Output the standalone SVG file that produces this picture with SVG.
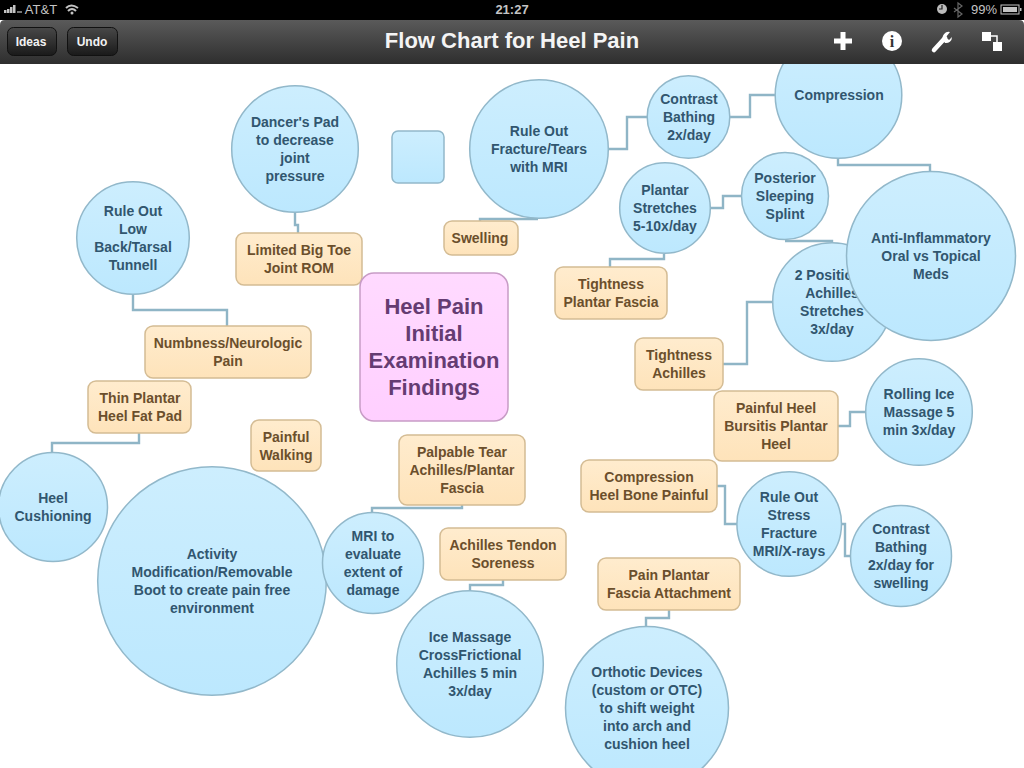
<svg xmlns="http://www.w3.org/2000/svg" width="1024" height="768" viewBox="0 0 1024 768">
<style>
text{font-family:"Liberation Sans",Arial,sans-serif;font-weight:bold;text-anchor:middle}
.c circle,.sq{fill:url(#blue);stroke:#92b8ca;stroke-width:1.5}
.c text{font-size:14px;fill:#31566f}
.r rect{fill:url(#tan);stroke:#d4bc94;stroke-width:1.5}
.r text{font-size:14px;fill:#6b4f2c}
#links path{fill:none;stroke:#8fb5c6;stroke-width:2.400}
.st{font-size:13px;font-weight:normal;fill:#c4c4c4}
.btn rect{fill:url(#btn);stroke:#111;stroke-width:1}
.btn text{font-size:12px;fill:#f2f2f2}
</style>
<defs>
<linearGradient id="blue" x1="0" y1="0" x2="0" y2="1"><stop offset="0" stop-color="#cdeefe"/><stop offset="1" stop-color="#bce8fe"/></linearGradient>
<linearGradient id="tan" x1="0" y1="0" x2="0" y2="1"><stop offset="0" stop-color="#ffecce"/><stop offset="1" stop-color="#fee3ba"/></linearGradient>
<linearGradient id="pink" x1="0" y1="0" x2="0" y2="1"><stop offset="0" stop-color="#ffdaff"/><stop offset="1" stop-color="#ffcfff"/></linearGradient>
<linearGradient id="bar" x1="0" y1="0" x2="0" y2="1"><stop offset="0" stop-color="#5a5a5a"/><stop offset="1" stop-color="#2e2e2e"/></linearGradient>
<linearGradient id="btn" x1="0" y1="0" x2="0" y2="1"><stop offset="0" stop-color="#484848"/><stop offset="1" stop-color="#1a1a1a"/></linearGradient>
</defs>
<rect width="1024" height="768" fill="#fff"/>

<g id="links">
<path d="M295 213V225H298V233"/>
<path d="M538 219H480V221"/>
<path d="M606 149H627V117H647"/>
<path d="M730 117H750V95H775"/>
<path d="M838 159V165H930V171"/>
<path d="M711 208H723V196H741"/>
<path d="M664 254V259H610V267"/>
<path d="M785 241H832V243"/>
<path d="M723 364H747V302H772"/>
<path d="M133 295V310H227V326"/>
<path d="M139 433V443H52V452"/>
<path d="M462 505V508H372V512"/>
<path d="M503 580V585H470V590"/>
<path d="M669 610V618H646V626"/>
<path d="M838 426H850V412H865"/>
<path d="M717 486H725V524H737"/>
<path d="M842 524H845V556H851"/>
</g>

<g id="dancers-pad" class="c"><circle cx="295" cy="149" r="63.300"/><text x="295" y="127">Dancer's Pad</text><text x="295" y="145">to decrease</text><text x="295" y="163">joint</text><text x="295" y="181">pressure</text></g>
<g id="blank-note"><rect class="sq" x="392" y="131" width="52" height="52" rx="6"/></g>
<g id="rule-out-fracture" class="c"><circle cx="539" cy="149" r="69.300"/><text x="539" y="136">Rule Out</text><text x="539" y="154">Fracture/Tears</text><text x="539" y="172">with MRI</text></g>
<g id="contrast-bathing" class="c"><circle cx="688.500" cy="117" r="41.300"/><text x="689" y="104">Contrast</text><text x="689" y="122">Bathing</text><text x="689" y="140">2x/day</text></g>
<g id="plantar-stretches" class="c"><circle cx="665" cy="208" r="45.300"/><text x="665" y="195">Plantar</text><text x="665" y="213">Stretches</text><text x="665" y="231">5-10x/day</text></g>
<g id="posterior-splint" class="c"><circle cx="785" cy="196" r="43.500"/><text x="785" y="183">Posterior</text><text x="785" y="201">Sleeping</text><text x="785" y="219">Splint</text></g>
<g id="achilles-stretches" class="c"><circle cx="832" cy="302" r="59.300"/><text x="832" y="280">2 Positions</text><text x="832" y="298">Achilles</text><text x="832" y="316">Stretches</text><text x="832" y="334">3x/day</text></g>
<g id="compression" class="c"><circle cx="838.500" cy="95" r="63.300"/><text x="839" y="100">Compression</text></g>
<g id="anti-inflammatory" class="c"><circle cx="931" cy="256" r="84.500"/><text x="931" y="243">Anti-Inflammatory</text><text x="931" y="261">Oral vs Topical</text><text x="931" y="279">Meds</text></g>
<g id="rule-out-back" class="c"><circle cx="133" cy="238" r="56.300"/><text x="133" y="216">Rule Out</text><text x="133" y="234">Low</text><text x="133" y="252">Back/Tarsal</text><text x="133" y="270">Tunnell</text></g>
<g id="rolling-ice" class="c"><circle cx="919" cy="412" r="53.300"/><text x="919" y="399">Rolling Ice</text><text x="919" y="417">Massage 5</text><text x="919" y="435">min 3x/day</text></g>
<g id="rule-out-stress" class="c"><circle cx="789.200" cy="524" r="52.300"/><text x="789" y="502">Rule Out</text><text x="789" y="520">Stress</text><text x="789" y="538">Fracture</text><text x="789" y="556">MRI/X-rays</text></g>
<g id="contrast-swelling" class="c"><circle cx="901" cy="556" r="50.500"/><text x="901" y="534">Contrast</text><text x="901" y="552">Bathing</text><text x="901" y="570">2x/day for</text><text x="901" y="588">swelling</text></g>
<g id="heel-cushioning" class="c"><circle cx="53" cy="507" r="54.500"/><text x="53" y="503">Heel</text><text x="53" y="521">Cushioning</text></g>
<g id="activity-modification" class="c"><circle cx="212" cy="581" r="114.300"/><text x="212" y="559">Activity</text><text x="212" y="577">Modification/Removable</text><text x="212" y="595">Boot to create pain free</text><text x="212" y="613">environment</text></g>
<g id="mri-evaluate" class="c"><circle cx="373" cy="563" r="50.500"/><text x="373" y="541">MRI to</text><text x="373" y="559">evaluate</text><text x="373" y="577">extent of</text><text x="373" y="595">damage</text></g>
<g id="ice-massage" class="c"><circle cx="470" cy="664" r="73.300"/><text x="470" y="642">Ice Massage</text><text x="470" y="660">CrossFrictional</text><text x="470" y="678">Achilles 5 min</text><text x="470" y="696">3x/day</text></g>
<g id="orthotic-devices" class="c"><circle cx="647" cy="708" r="81.500"/><text x="647" y="677">Orthotic Devices</text><text x="647" y="695">(custom or OTC)</text><text x="647" y="713">to shift weight</text><text x="647" y="731">into arch and</text><text x="647" y="749">cushion heel</text></g>

<g id="limited-toe" class="r"><rect x="236" y="233" width="126" height="52" rx="8"/><text x="299" y="255">Limited Big Toe</text><text x="299" y="273">Joint ROM</text></g>
<g id="swelling" class="r"><rect x="444" y="221" width="74" height="34" rx="8"/><text x="480" y="243">Swelling</text></g>
<g id="heel-pain"><rect x="360" y="273" width="148" height="148" rx="14" fill="url(#pink)" stroke="#c89cc6" stroke-width="1.500"/><g style="font-size:22px" fill="#653c72"><text x="434" y="314">Heel Pain</text><text x="434" y="341">Initial</text><text x="434" y="368">Examination</text><text x="434" y="395">Findings</text></g></g>
<g id="tightness-plantar" class="r"><rect x="555" y="267" width="112" height="52" rx="8"/><text x="611" y="289">Tightness</text><text x="611" y="307">Plantar Fascia</text></g>
<g id="tightness-achilles" class="r"><rect x="635" y="338" width="88" height="52" rx="8"/><text x="679" y="360">Tightness</text><text x="679" y="378">Achilles</text></g>
<g id="numbness" class="r"><rect x="145" y="326" width="166" height="52" rx="8"/><text x="228" y="348">Numbness/Neurologic</text><text x="228" y="366">Pain</text></g>
<g id="thin-fat-pad" class="r"><rect x="88" y="381" width="103" height="52" rx="8"/><text x="140" y="403">Thin Plantar</text><text x="140" y="421">Heel Fat Pad</text></g>
<g id="painful-walking" class="r"><rect x="251" y="420" width="70" height="51" rx="8"/><text x="286" y="442">Painful</text><text x="286" y="460">Walking</text></g>
<g id="palpable-tear" class="r"><rect x="399" y="435" width="126" height="70" rx="8"/><text x="462" y="457">Palpable Tear</text><text x="462" y="475">Achilles/Plantar</text><text x="462" y="493">Fascia</text></g>
<g id="achilles-soreness" class="r"><rect x="440" y="528" width="126" height="52" rx="8"/><text x="503" y="550">Achilles Tendon</text><text x="503" y="568">Soreness</text></g>
<g id="painful-bursitis" class="r"><rect x="714" y="391" width="124" height="70" rx="8"/><text x="776" y="413">Painful Heel</text><text x="776" y="431">Bursitis Plantar</text><text x="776" y="449">Heel</text></g>
<g id="compression-bone" class="r"><rect x="581" y="460" width="136" height="52" rx="8"/><text x="649" y="482">Compression</text><text x="649" y="500">Heel Bone Painful</text></g>
<g id="pain-attachment" class="r"><rect x="598" y="558" width="142" height="52" rx="8"/><text x="669" y="580">Pain Plantar</text><text x="669" y="598">Fascia Attachment</text></g>

<!-- status bar and title bar -->
<g id="status-bar">
<rect width="1024" height="20" fill="#000"/>
<g fill="#c4c4c4"><rect x="4" y="10" width="2.500" height="3"/><rect x="7" y="9" width="2.500" height="4"/><rect x="10" y="7" width="2.500" height="6"/><rect x="13" y="5" width="2.500" height="8"/><rect x="17" y="11" width="5" height="2" opacity=".6"/></g>
<text class="st" x="41" y="14">AT&amp;T</text>
<path d="M66 8Q71 3 78 8M68 11Q72 7 76 11" fill="none" stroke="#c4c4c4" stroke-width="2"/><circle cx="72" cy="13" r="1.500" fill="#c4c4c4"/>
<text class="st" x="512" y="14" style="font-weight:bold;font-size:13px">21:27</text>
<circle cx="942" cy="9" r="5" fill="#bbb"/><path d="M942 5V9H939" fill="none" stroke="#222" stroke-width="1.200"/>
<path d="M954 8L962 14L958 17V3L962 6L954 12" fill="none" stroke="#666" stroke-width="1.200"/>
<text class="st" x="984" y="14">99%</text>
<rect x="1001" y="5" width="18" height="9" fill="none" stroke="#c4c4c4"/><rect x="1003" y="7" width="14" height="5" fill="#c4c4c4"/><rect x="1020" y="8" width="1.500" height="3" fill="#c4c4c4"/>
</g>
<g id="title-bar">
<path d="M0 64V25Q0 20 5 20H1019Q1024 20 1024 25V64Z" fill="url(#bar)"/>
<text x="512" y="48" fill="#f4f4f4" style="font-size:22px">Flow Chart for Heel Pain</text>
<g class="btn"><rect x="7.500" y="27.500" width="49" height="28" rx="6"/><text x="31" y="46">Ideas</text></g>
<g class="btn"><rect x="67.500" y="27.500" width="50" height="28" rx="6"/><text x="92" y="46">Undo</text></g>
<path d="M843 32V50M834 41H852" stroke="#fff" stroke-width="5" fill="none"/>
<circle cx="892" cy="41" r="10" fill="#fff"/><text x="892" y="47" style="font-size:16px;font-family:'Liberation Serif',serif" fill="#333">i</text>
<path d="M934 50L945 38" stroke="#fff" stroke-width="4.500" stroke-linecap="round"/><path d="M943 40A6 6 0 0 1 950 32L946 37L949 40L952 37A6 6 0 0 1 945 43Z" fill="#fff"/>
<rect x="982" y="32" width="9" height="9" fill="#fff"/><rect x="993" y="42" width="9" height="9" fill="#fff"/><path d="M991 36H997V42" fill="none" stroke="#fff" stroke-width="1.500"/>
</g>
</svg>
